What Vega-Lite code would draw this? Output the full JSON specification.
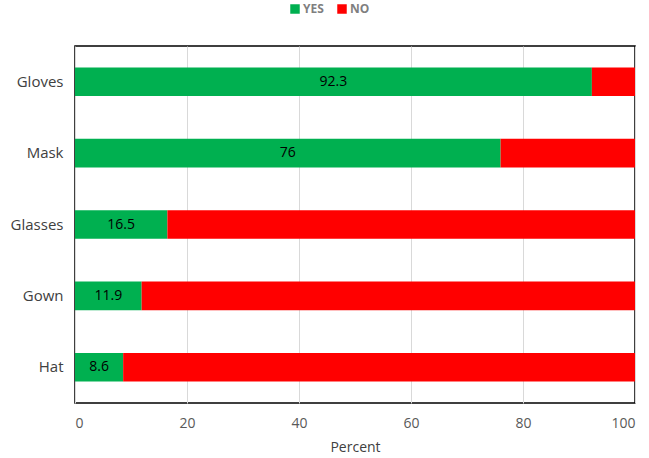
{
  "$schema": "https://vega.github.io/schema/vega-lite/v6.json",
  "width": 560,
  "height": 357,
  "autosize": {"type": "none"},
  "padding": {"left": 75, "top": 46, "right": 14, "bottom": 55},
  "background": "white",
  "config": {
    "font": "Open Sans",
    "view": {"stroke": "#000000", "strokeWidth": 1.5}
  },
  "data": {
    "values": [
      {"item": "Gloves", "answer": "YES", "ord": 1, "value": 92.3},
      {"item": "Gloves", "answer": "NO", "ord": 2, "value": 7.7},
      {"item": "Mask", "answer": "YES", "ord": 1, "value": 76},
      {"item": "Mask", "answer": "NO", "ord": 2, "value": 24},
      {"item": "Glasses", "answer": "YES", "ord": 1, "value": 16.5},
      {"item": "Glasses", "answer": "NO", "ord": 2, "value": 83.5},
      {"item": "Gown", "answer": "YES", "ord": 1, "value": 11.9},
      {"item": "Gown", "answer": "NO", "ord": 2, "value": 88.1},
      {"item": "Hat", "answer": "YES", "ord": 1, "value": 8.6},
      {"item": "Hat", "answer": "NO", "ord": 2, "value": 91.4}
    ]
  },
  "encoding": {
    "y": {
      "field": "item",
      "type": "nominal",
      "sort": ["Gloves", "Mask", "Glasses", "Gown", "Hat"],
      "scale": {"paddingInner": 0.6, "paddingOuter": 0.3},
      "axis": {
        "title": null,
        "domain": false,
        "ticks": false,
        "labelPadding": 12,
        "labelFontSize": 15,
        "labelColor": "#404040"
      }
    },
    "x": {
      "field": "value",
      "type": "quantitative",
      "stack": "zero",
      "scale": {"domain": [0, 100], "nice": false},
      "axis": {
        "title": "Percent",
        "titleFontSize": 14,
        "titleFontWeight": "normal",
        "titleColor": "#404040",
        "titlePadding": 10,
        "values": [0, 20, 40, 60, 80, 100],
        "domain": false,
        "ticks": false,
        "labelPadding": 13,
        "labelFontSize": 14,
        "labelColor": "#595959",
        "gridColor": "#d9d9d9",
        "gridWidth": 1
      }
    },
    "order": {"field": "ord", "type": "quantitative"}
  },
  "layer": [
    {
      "mark": {"type": "bar"},
      "encoding": {
        "color": {
          "field": "answer",
          "type": "nominal",
          "scale": {"domain": ["YES", "NO"], "range": ["#00B050", "#FF0000"]},
          "legend": {
            "title": null,
            "orient": "none",
            "direction": "horizontal",
            "legendX": 214,
            "legendY": -43,
            "symbolType": "square",
            "symbolSize": 90,
            "symbolStrokeWidth": 0,
            "labelFontSize": 12,
            "labelFontWeight": "bold",
            "labelColor": "#7f7f7f",
            "labelOffset": 2,
            "columnPadding": 12
          }
        }
      }
    },
    {
      "mark": {"type": "text", "fontSize": 14, "color": "#000000", "align": "center", "baseline": "middle"},
      "encoding": {
        "x": {"field": "value", "type": "quantitative", "stack": "zero", "bandPosition": 0.5},
        "text": {
          "condition": {"test": "datum.answer === 'YES'", "field": "value", "type": "quantitative"},
          "value": ""
        }
      }
    }
  ]
}
